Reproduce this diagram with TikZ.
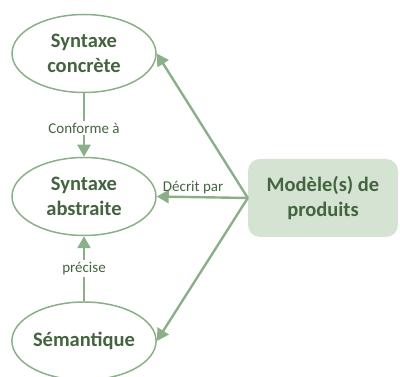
\documentclass[tikz,border=0pt]{standalone}
\usepackage{fontspec}
\setmainfont{Carlito}
\usetikzlibrary{shapes,arrows.meta,positioning}
\definecolor{vert}{HTML}{8BAF88}
\definecolor{vertfonce}{HTML}{44643F}
\definecolor{vertclair}{HTML}{D5E3D3}

\begin{document}
\begin{tikzpicture}[x=1pt, y=1pt, ->, >={Triangle[length=12pt,width=13pt]},
  notion/.style={ellipse, draw=vert, line width=1.5pt, minimum width=144pt, minimum height=78pt, inner sep=0pt, align=center, text=vertfonce, font=\fontsize{20.5}{25}\selectfont\bfseries},
  modele/.style={rectangle, rounded corners=12pt, fill=vertclair, minimum width=150pt, minimum height=78pt, align=center, text=vertfonce, font=\fontsize{20.5}{25}\selectfont\bfseries},
  lien/.style={draw=vert, line width=2.4pt},
  etiq/.style={text=vertfonce, inner sep=2pt, font=\fontsize{15}{18}\selectfont}]
\useasboundingbox (0,0) rectangle (400,377);
\node[notion] (concrete) at (84,323.5) {Syntaxe\\concrète};
\node[notion] (abstraite) at (84,180.5) {Syntaxe\\abstraite};
\node[notion] (semantique) at (84,36) {Sémantique};
\node[modele] (modele) at (323,179) {Modèle(s) de\\produits};
\draw[lien] (concrete) -- node[etiq, fill=white, pos=0.55]{Conforme à} (abstraite);
\draw[lien] (semantique) -- node[etiq, fill=white]{précise} (abstraite);
\draw[lien] (modele.west) -- (concrete.east);
\draw[lien] (modele.west) -- node[etiq, above, pos=0.6]{Décrit par} (abstraite.east);
\draw[lien] (modele.west) -- (semantique.east);
\end{tikzpicture}
\end{document}
